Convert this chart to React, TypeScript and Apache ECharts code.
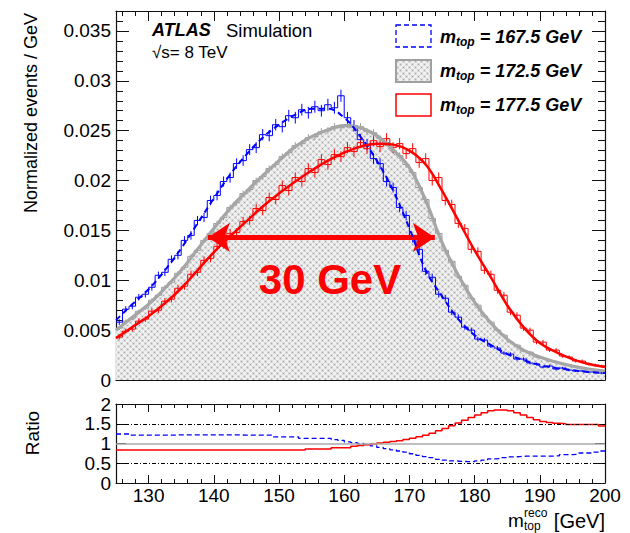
import { useEffect, useRef } from 'react';
import * as echarts from 'echarts';

const FONT = '"Liberation Sans", Arial, Helvetica, sans-serif';

// x range of the reconstructed top-quark mass (GeV), 1 GeV bins
const X_MIN = 125;
const X_MAX = 200;
const BIN_WIDTH = 1;

// histograms (normalized events / GeV), one value per 1 GeV bin from 125 to 200
const grayHist = [
  0.0052, 0.0059, 0.0062, 0.0069, 0.0072, 0.0080, 0.0085, 0.0093, 0.0098, 0.0107,
  0.0113, 0.0124, 0.0130, 0.0140, 0.0147, 0.0157, 0.0163, 0.0173, 0.0178, 0.0187,
  0.0191, 0.0200, 0.0204, 0.0212, 0.0216, 0.0224, 0.0228, 0.0235, 0.0237, 0.0243,
  0.0244, 0.0249, 0.0250, 0.0254, 0.0253, 0.0256, 0.0253, 0.0254, 0.0249, 0.0248,
  0.0242, 0.0238, 0.0230, 0.0225, 0.0216, 0.0208, 0.0193, 0.0181, 0.0162, 0.0147,
  0.0130, 0.0119, 0.0104, 0.0095, 0.0082, 0.0075, 0.0064, 0.0058, 0.0050, 0.0045,
  0.0038, 0.0035, 0.0029, 0.0028, 0.0023, 0.0022, 0.0019, 0.0018, 0.0016, 0.0015,
  0.0013, 0.0012, 0.0011, 0.0010, 0.0009,
];
const blueHist = [
  0.0058, 0.0071, 0.0074, 0.0083, 0.0086, 0.0093, 0.0105, 0.0108, 0.0121, 0.0125,
  0.0140, 0.0145, 0.0160, 0.0163, 0.0180, 0.0185, 0.0199, 0.0203, 0.0217, 0.0220,
  0.0231, 0.0233, 0.0246, 0.0245, 0.0256, 0.0254, 0.0265, 0.0263, 0.0271, 0.0268,
  0.0274, 0.0270, 0.0276, 0.0273, 0.0285, 0.0263, 0.0255, 0.0241, 0.0236, 0.0222,
  0.0217, 0.0199, 0.0193, 0.0173, 0.0165, 0.0142, 0.0131, 0.0109, 0.0103, 0.0086,
  0.0082, 0.0068, 0.0063, 0.0053, 0.0050, 0.0041, 0.0040, 0.0034, 0.0032, 0.0027,
  0.0026, 0.0021, 0.0021, 0.0017, 0.0016, 0.0013, 0.0014, 0.0011, 0.0012, 0.0010,
  0.0009, 0.0009, 0.0008, 0.0008, 0.0007,
];
const redHist = [
  0.0043, 0.0049, 0.0051, 0.0059, 0.0061, 0.0069, 0.0070, 0.0079, 0.0081, 0.0092,
  0.0094, 0.0106, 0.0108, 0.0120, 0.0122, 0.0134, 0.0136, 0.0147, 0.0148, 0.0159,
  0.0160, 0.0172, 0.0170, 0.0183, 0.0181, 0.0195, 0.0190, 0.0203, 0.0199, 0.0212,
  0.0208, 0.0221, 0.0216, 0.0226, 0.0224, 0.0233, 0.0229, 0.0238, 0.0232, 0.0240,
  0.0234, 0.0242, 0.0233, 0.0237, 0.0227, 0.0232, 0.0218, 0.0222, 0.0200, 0.0203,
  0.0180, 0.0176, 0.0157, 0.0152, 0.0131, 0.0129, 0.0110, 0.0106, 0.0090, 0.0085,
  0.0068, 0.0065, 0.0052, 0.0050, 0.0038, 0.0038, 0.0030, 0.0030, 0.0024, 0.0023,
  0.0019, 0.0019, 0.0016, 0.0015, 0.0014,
];

// fitted templates, sampled every 2.5 GeV
const fitX = [
  125, 127.5, 130, 132.5, 135, 137.5, 140, 142.5, 145, 147.5,
  150, 152.5, 155, 157.5, 160, 162.5, 165, 167.5, 170, 172.5,
  175, 177.5, 180, 182.5, 185, 187.5, 190, 192.5, 195, 197.5, 200,
];
const grayFit = [
  0.0050, 0.0063, 0.0076, 0.0092, 0.0110, 0.0131, 0.0152, 0.0172, 0.0189, 0.0205,
  0.0220, 0.0234, 0.0244, 0.0251, 0.0255, 0.0253, 0.0245, 0.0231, 0.0213, 0.0180,
  0.0138, 0.0105, 0.0078, 0.0057, 0.0041, 0.0030, 0.0023, 0.0018, 0.0014, 0.0011, 0.0009,
];
const blueFit = [
  0.0060, 0.0076, 0.0091, 0.0110, 0.0132, 0.0157, 0.0182, 0.0206, 0.0226, 0.0243,
  0.0256, 0.0266, 0.0272, 0.0272, 0.0263, 0.0244, 0.0220, 0.0190, 0.0152, 0.0110,
  0.0084, 0.0061, 0.0045, 0.0035, 0.0026, 0.0020, 0.0015, 0.0012, 0.0010, 0.0008, 0.0007,
];
const redFit = [
  0.0042, 0.0053, 0.0064, 0.0077, 0.0092, 0.0110, 0.0128, 0.0144, 0.0159, 0.0174,
  0.0187, 0.0199, 0.0210, 0.0220, 0.0228, 0.0234, 0.0237, 0.0236, 0.0230, 0.0216,
  0.0190, 0.0160, 0.0130, 0.0103, 0.0075, 0.0053, 0.0037, 0.0028, 0.0021, 0.0016, 0.0013,
];

// ratio to the 172.5 GeV template, per 1 GeV bin
const blueRatio = [
  1.24, 1.24, 1.21, 1.21, 1.21, 1.21, 1.21, 1.21, 1.21, 1.22,
  1.22, 1.22, 1.22, 1.22, 1.22, 1.22, 1.22, 1.22, 1.22, 1.21,
  1.21, 1.21, 1.21, 1.21, 1.17, 1.17, 1.17, 1.17, 1.13, 1.13,
  1.13, 1.13, 1.13, 1.10, 1.08, 1.04, 1.02, 1.00, 0.98, 0.94,
  0.90, 0.87, 0.84, 0.81, 0.78, 0.74, 0.70, 0.67, 0.64, 0.60,
  0.58, 0.56, 0.55, 0.54, 0.54, 0.56, 0.58, 0.61, 0.62, 0.64,
  0.66, 0.67, 0.68, 0.68, 0.68, 0.68, 0.68, 0.69, 0.72, 0.72,
  0.73, 0.76, 0.76, 0.78, 0.81,
];
const redRatio = [
  0.835, 0.835, 0.835, 0.835, 0.835, 0.835, 0.835, 0.835, 0.835, 0.835,
  0.835, 0.835, 0.835, 0.835, 0.835, 0.835, 0.835, 0.835, 0.835, 0.835,
  0.835, 0.835, 0.835, 0.835, 0.835, 0.835, 0.835, 0.835, 0.835, 0.86,
  0.86, 0.86, 0.86, 0.89, 0.89, 0.89, 0.93, 0.95, 0.97, 0.99,
  1.01, 1.03, 1.05, 1.07, 1.10, 1.13, 1.17, 1.21, 1.26, 1.32,
  1.38, 1.45, 1.52, 1.59, 1.66, 1.72, 1.78, 1.83, 1.85, 1.85,
  1.83, 1.78, 1.72, 1.66, 1.60, 1.56, 1.53, 1.51, 1.50, 1.48,
  1.48, 1.48, 1.48, 1.48, 1.44,
];
const ratioRefLines = [0.5, 1, 1.5];

// annotation: arrow tips (GeV) and height
const arrowSpan = [139.1, 173.9];
const arrowLevel = 0.0143;

const legendMasses = ['167.5', '172.5', '177.5'];

function stepData(vals: number[]) {
  const d = vals.map((v, i) => [X_MIN + i * BIN_WIDTH, v]);
  d.push([X_MAX, vals[vals.length - 1]]);
  return d;
}
function errData(vals: number[], k: number) {
  return vals.map((v, i) => {
    const e = k * Math.sqrt(v);
    return [X_MIN + (i + 0.5) * BIN_WIDTH, v - e, v + e];
  });
}
function curve(xs: number[], ys: number[]) {
  return xs.map((x, i) => [x, ys[i]]);
}

function makeTile(): string {
  const c = document.createElement('canvas');
  c.width = 6;
  c.height = 6;
  const g = c.getContext('2d');
  if (!g) return '';
  g.fillStyle = '#f0f0f0';
  g.fillRect(0, 0, 6, 6);
  g.fillStyle = '#d9d9d9';
  g.fillRect(0, 0, 3, 3);
  g.fillRect(3, 3, 3, 3);
  g.fillStyle = '#a8a8a8';
  g.fillRect(1, 1, 1, 1);
  g.fillRect(4, 4, 1, 1);
  return c.toDataURL('image/png');
}

function errSeries(vals: number[], k: number, color: string, z: number) {
  return {
    type: 'custom',
    xAxisIndex: 0,
    yAxisIndex: 0,
    silent: true,
    z,
    data: errData(vals, k),
    encode: { x: 0, y: [1, 2] },
    renderItem: (_p: any, api: any) => {
      const x = api.value(0);
      const a = api.coord([x, api.value(1)]);
      const b = api.coord([x, api.value(2)]);
      return {
        type: 'line',
        shape: { x1: a[0], y1: a[1], x2: b[0], y2: b[1] },
        style: { stroke: color, lineWidth: 1 },
      };
    },
  };
}

function histSeries(vals: number[], color: string, z: number, extra: any = {}) {
  return {
    type: 'line',
    xAxisIndex: 0,
    yAxisIndex: 0,
    step: 'end',
    symbol: 'none',
    silent: true,
    z,
    data: stepData(vals),
    lineStyle: { color, width: 1 },
    ...extra,
  };
}

function buildOption() {
  const tile = makeTile();
  const pattern: any = { image: tile, repeat: 'repeat', imageWidth: 6, imageHeight: 6 };

  const frameLine = { show: true, onZero: false, lineStyle: { color: '#111', width: 1.2 } };
  const tickStyle = { color: '#111', width: 1 };

  const xBase = (grid: number, pos: string, major: number, minor: number, labels: boolean) => ({
    type: 'value',
    gridIndex: grid,
    position: pos,
    min: X_MIN,
    max: X_MAX,
    splitNumber: 8,
    axisLine: frameLine,
    axisTick: { show: true, inside: true, length: major, lineStyle: tickStyle },
    minorTick: { show: true, splitNumber: 5, length: minor, lineStyle: tickStyle },
    splitLine: { show: false },
    axisLabel: labels
      ? {
          show: true,
          showMinLabel: false,
          fontSize: 19,
          fontFamily: FONT,
          color: '#000',
          margin: 3,
          formatter: (v: number) => (Math.abs(v % 10) < 1e-6 ? String(v) : ''),
        }
      : { show: false },
  });

  const topYFormatter = (v: number) => {
    const q = v / 0.005;
    if (Math.abs(q - Math.round(q)) > 1e-6) return '';
    const r = Math.round(v * 1000) / 1000;
    return r === 0 ? '0' : String(r);
  };

  const yTop = (pos: string, labels: boolean) => ({
    type: 'value',
    gridIndex: 0,
    position: pos,
    min: 0,
    max: 0.037,
    interval: 0.005,
    axisLine: frameLine,
    axisTick: { show: true, inside: true, length: 13, lineStyle: tickStyle },
    minorTick: { show: true, splitNumber: 5, length: 7, lineStyle: tickStyle },
    splitLine: { show: false },
    axisLabel: labels
      ? { show: true, showMaxLabel: false, fontSize: 19, fontFamily: FONT, color: '#000', margin: 5, formatter: topYFormatter }
      : { show: false },
  });

  const yRatio = (pos: string, labels: boolean) => ({
    type: 'value',
    gridIndex: 1,
    position: pos,
    min: 0,
    max: 2,
    interval: 0.5,
    axisLine: frameLine,
    axisTick: { show: true, inside: true, length: 10, lineStyle: tickStyle },
    splitLine: { show: false },
    axisLabel: labels
      ? { show: true, fontSize: 19, fontFamily: FONT, color: '#000', margin: 5 }
      : { show: false },
  });

  const legendRich = {
    a: { fontSize: 18, fontWeight: 'bold', fontStyle: 'italic', fontFamily: FONT, fill: '#000', lineHeight: 22 },
    b: { fontSize: 12, fontWeight: 'bold', fontStyle: 'italic', fontFamily: FONT, fill: '#000', lineHeight: 13, padding: [9, 0, 0, 0] },
  };
  const legendRows = [37, 71, 105];

  const graphics: any[] = [
    // ATLAS label
    { type: 'text', x: 152, y: 30, style: { text: 'ATLAS', fontSize: 18, fontWeight: 'bold', fontStyle: 'italic', fontFamily: FONT, fill: '#000', align: 'left', verticalAlign: 'middle' } },
    { type: 'text', x: 226, y: 30, style: { text: 'Simulation', fontSize: 18.5, fontFamily: FONT, fill: '#000', align: 'left', verticalAlign: 'middle' } },
    { type: 'text', x: 152, y: 52, style: { text: '\u221As= 8 TeV', fontSize: 17, fontFamily: FONT, fill: '#000', align: 'left', verticalAlign: 'middle' } },
    // axis titles
    { type: 'text', x: 31, y: 13, rotation: Math.PI / 2, style: { text: 'Normalized events / GeV', fontSize: 18, fontFamily: FONT, fill: '#000', align: 'right', verticalAlign: 'middle' } },
    { type: 'text', x: 32, y: 433, rotation: Math.PI / 2, style: { text: 'Ratio', fontSize: 19, fontFamily: FONT, fill: '#000', align: 'center', verticalAlign: 'middle' } },
    { type: 'text', x: 508, y: 520, style: { text: 'm', fontSize: 19, fontFamily: FONT, fill: '#000', align: 'left', verticalAlign: 'middle' } },
    { type: 'text', x: 524, y: 513, style: { text: 'reco', fontSize: 12, fontFamily: FONT, fill: '#000', align: 'left', verticalAlign: 'middle' } },
    { type: 'text', x: 524, y: 526, style: { text: 'top', fontSize: 12, fontFamily: FONT, fill: '#000', align: 'left', verticalAlign: 'middle' } },
    { type: 'text', x: 605, y: 521, style: { text: '[GeV]', fontSize: 20, fontFamily: FONT, fill: '#000', align: 'right', verticalAlign: 'middle' } },
    // annotation text
    { type: 'text', x: 330, y: 279, style: { text: '30 GeV', fontSize: 42, fontWeight: 'bold', fontFamily: FONT, fill: '#ff0000', align: 'center', verticalAlign: 'middle' } },
    // legend boxes
    { type: 'rect', shape: { x: 396, y: 25, width: 35, height: 22 }, style: { fill: '#fff', stroke: '#0000ff', lineWidth: 1.3, lineDash: [5, 3] } },
    { type: 'rect', shape: { x: 396, y: 60, width: 35, height: 22 }, style: { fill: pattern, stroke: '#a0a0a0', lineWidth: 2 } },
    { type: 'rect', shape: { x: 396, y: 94, width: 35, height: 22 }, style: { fill: '#fff', stroke: '#ff0000', lineWidth: 1.5 } },
  ];
  legendMasses.forEach((m, i) => {
    graphics.push({
      type: 'text',
      x: 440,
      y: legendRows[i],
      style: { text: `{a|m}{b|top}{a| = ${m} GeV}`, rich: legendRich, align: 'left', verticalAlign: 'middle' },
    });
  });
  graphics.forEach((g) => {
    g.z = 100;
    g.silent = true;
  });

  return {
    animation: false,
    backgroundColor: '#fff',
    textStyle: { fontFamily: FONT },
    grid: [
      { left: 116, top: 11, width: 489, height: 369 },
      { left: 116, top: 404, width: 489, height: 79 },
    ],
    xAxis: [
      xBase(0, 'bottom', 10, 5, false),
      xBase(0, 'top', 10, 5, false),
      xBase(1, 'bottom', 8, 4, true),
      xBase(1, 'top', 8, 4, false),
    ],
    yAxis: [yTop('left', true), yTop('right', false), yRatio('left', true), yRatio('right', false)],
    graphic: graphics,
    series: [
      histSeries(grayHist, '#9a9a9a', 1, { areaStyle: { color: pattern, opacity: 1 } }),
      errSeries(grayHist, 0.0022, '#9a9a9a', 2),
      histSeries(blueHist, '#0000ff', 3),
      errSeries(blueHist, 0.0036, '#0000ff', 3),
      histSeries(redHist, '#ff0000', 3),
      errSeries(redHist, 0.0036, '#ff0000', 3),
      {
        type: 'line', xAxisIndex: 0, yAxisIndex: 0, symbol: 'none', silent: true, smooth: 0.4, z: 4,
        data: curve(fitX, grayFit), lineStyle: { color: '#a6a6a6', width: 3.2 },
      },
      {
        type: 'line', xAxisIndex: 0, yAxisIndex: 0, symbol: 'none', silent: true, smooth: 0.4, z: 5,
        data: curve(fitX, blueFit), lineStyle: { color: '#0000ff', width: 2, type: [6, 4] },
      },
      {
        type: 'line', xAxisIndex: 0, yAxisIndex: 0, symbol: 'none', silent: true, smooth: 0.4, z: 5,
        data: curve(fitX, redFit), lineStyle: { color: '#ff0000', width: 2.5 },
        markLine: {
          silent: true,
          animation: false,
          symbol: ['arrow', 'arrow'],
          symbolSize: [22, 22],
          label: { show: false },
          itemStyle: { color: '#ff0000' },
          lineStyle: { color: '#ff0000', width: 5, type: 'solid' },
          data: [[{ coord: [arrowSpan[0], arrowLevel] }, { coord: [arrowSpan[1], arrowLevel] }]],
        },
      },
      {
        type: 'line', xAxisIndex: 2, yAxisIndex: 2, step: 'end', symbol: 'none', silent: true, z: 3,
        data: stepData(blueRatio), lineStyle: { color: '#0000ff', width: 1.3, type: [5, 3] },
      },
      {
        type: 'line', xAxisIndex: 2, yAxisIndex: 2, step: 'end', symbol: 'none', silent: true, z: 3,
        data: stepData(redRatio), lineStyle: { color: '#ff0000', width: 1.5 },
        markLine: {
          silent: true,
          animation: false,
          symbol: 'none',
          label: { show: false },
          data: ratioRefLines.map((r) =>
            r === 1
              ? { yAxis: r, lineStyle: { color: '#aaaaaa', width: 1.5, type: 'solid' } }
              : { yAxis: r, lineStyle: { color: '#000', width: 1, type: [4, 2, 1, 2] } }
          ),
        },
      },
    ],
  };
}

export default function App() {
  const ref = useRef<HTMLDivElement>(null);
  useEffect(() => {
    if (!ref.current) return;
    const chart = echarts.init(ref.current, null, { renderer: 'svg' });
    chart.setOption(buildOption() as any);
    return () => chart.dispose();
  }, []);
  return (
    <div
      ref={ref}
      style={{ position: 'absolute', left: 0, top: 0, width: 630, height: 533, background: '#fff' }}
    />
  );
}
